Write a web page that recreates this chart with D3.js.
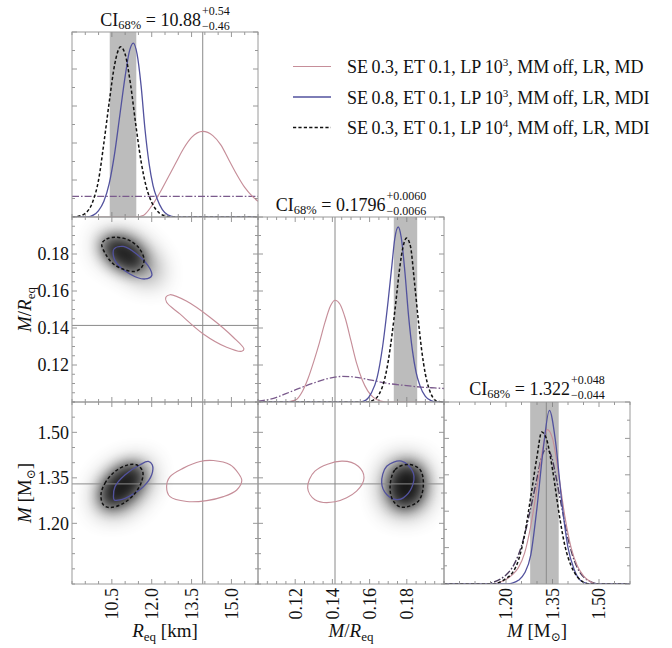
<!DOCTYPE html>
<html>
<head>
<meta charset="utf-8">
<script src="https://cdn.jsdelivr.net/npm/d3@7"></script>
<style>
  body { margin: 0; background: #fff; }
  svg { display: block; }
  text { font-family: "Liberation Serif", "Times New Roman", "DejaVu Serif", serif; fill: #111; }
</style>
</head>
<body>
<svg id="chart" width="672" height="648" font-family="Liberation Serif, serif"></svg>
<script>
// ---------- parameter axes ----------
const radiusDomain = [9, 16];
const compactDomain = [0.1, 0.2];
const massDomain = [1.0, 1.6];

const radiusTicks = [10.5, 12.0, 13.5, 15.0];
const radiusTickLabels = ["10.5", "12.0", "13.5", "15.0"];
const compactTicks = [0.12, 0.14, 0.16, 0.18];
const compactTickLabels = ["0.12", "0.14", "0.16", "0.18"];
const massTicks = [1.20, 1.35, 1.50];
const massTickLabels = ["1.20", "1.35", "1.50"];

const radiusMinorStep = 0.5;
const compactMinorStep = 0.005;
const massMinorStep = 0.05;

// injected (true) parameter values
const truthValues = [13.92, 0.1414, 1.33];

// 68% credible intervals of the reference run
const ciMedians = [10.88, 0.1796, 1.322];
const ciPlus = [0.54, 0.0060, 0.048];
const ciMinus = [0.46, 0.0066, 0.044];
const ciMedianLabels = ["10.88", "0.1796", "1.322"];
const ciPlusLabels = ["+0.54", "+0.0060", "+0.048"];
const ciMinusLabels = ["\u22120.46", "\u22120.0066", "\u22120.044"];

// legend entries
const runLabels = [
  ["SE\u20090.3, ET\u20090.1, LP\u200910", "3", ", MM\u2009off, LR, MD"],
  ["SE\u20090.8, ET\u20090.1, LP\u200910", "3", ", MM\u2009off, LR, MDI"],
  ["SE\u20090.3, ET\u20090.1, LP\u200910", "4", ", MM\u2009off, LR, MDI"]
];

// ---------- 1D marginal posteriors (relative density) ----------
const radiusMD = [[9,0],[11.4,0],[11.7,0.01],[12.0,0.06],[12.3,0.13],[12.6,0.21],[12.9,0.29],[13.2,0.37],[13.5,0.43],[13.92,0.463],[14.3,0.44],[14.6,0.39],[14.9,0.31],[15.2,0.23],[15.5,0.16],[15.8,0.11],[16.0,0.085]];
const radiusSE08 = [[9,0],[9.6,0],[9.8,0.01],[10.0,0.035],[10.2,0.085],[10.4,0.18],[10.6,0.34],[10.8,0.55],[11.0,0.76],[11.15,0.89],[11.31,0.94],[11.45,0.88],[11.6,0.71],[11.75,0.47],[11.9,0.29],[12.05,0.17],[12.2,0.1],[12.4,0.04],[12.6,0.012],[12.9,0],[16,0]];
const radiusLP4 = [[9,0],[9.2,0.003],[9.5,0.02],[9.8,0.09],[10.0,0.2],[10.2,0.4],[10.4,0.62],[10.6,0.82],[10.83,0.92],[11.0,0.88],[11.2,0.72],[11.4,0.5],[11.6,0.3],[11.8,0.16],[12.0,0.08],[12.3,0.02],[12.6,0.003],[12.8,0],[16,0]];
const radiusPrior = [[9,0.112],[12.5,0.112],[16,0.112]];

const compactMD = [[0.1,0],[0.115,0],[0.12,0.01],[0.124,0.06],[0.127,0.13],[0.13,0.22],[0.133,0.32],[0.136,0.43],[0.139,0.52],[0.1414,0.55],[0.144,0.53],[0.147,0.45],[0.15,0.33],[0.153,0.21],[0.156,0.12],[0.159,0.06],[0.162,0.025],[0.166,0.005],[0.17,0],[0.2,0]];
const compactSE08 = [[0.1,0],[0.155,0],[0.158,0.01],[0.161,0.05],[0.164,0.13],[0.167,0.3],[0.170,0.55],[0.172,0.74],[0.1735,0.88],[0.1754,0.946],[0.177,0.89],[0.179,0.7],[0.181,0.46],[0.183,0.28],[0.185,0.16],[0.187,0.09],[0.19,0.03],[0.193,0.008],[0.196,0],[0.2,0]];
const compactLP4 = [[0.1,0],[0.158,0],[0.162,0.01],[0.165,0.04],[0.168,0.12],[0.170,0.22],[0.172,0.36],[0.174,0.53],[0.176,0.71],[0.178,0.84],[0.1799,0.886],[0.182,0.84],[0.184,0.66],[0.186,0.46],[0.188,0.28],[0.190,0.15],[0.192,0.07],[0.194,0.025],[0.196,0.005],[0.2,0]];
const compactPrior = [[0.1,0.005],[0.105,0.012],[0.11,0.025],[0.115,0.045],[0.12,0.065],[0.125,0.085],[0.13,0.103],[0.135,0.12],[0.14,0.132],[0.145,0.138],[0.15,0.137],[0.155,0.13],[0.16,0.12],[0.165,0.11],[0.17,0.1],[0.175,0.094],[0.18,0.088],[0.185,0.083],[0.19,0.079],[0.195,0.076],[0.2,0.073]];

const massMD = [[1.0,0],[1.16,0],[1.18,0.01],[1.2,0.025],[1.22,0.05],[1.24,0.09],[1.26,0.17],[1.28,0.32],[1.30,0.53],[1.32,0.76],[1.333,0.848],[1.35,0.8],[1.37,0.6],[1.39,0.37],[1.41,0.2],[1.43,0.1],[1.45,0.045],[1.47,0.015],[1.49,0],[1.6,0]];
const massSE08 = [[1.0,0],[1.2,0],[1.22,0.005],[1.24,0.02],[1.26,0.06],[1.28,0.16],[1.30,0.42],[1.32,0.74],[1.34,0.954],[1.36,0.78],[1.38,0.45],[1.40,0.2],[1.42,0.08],[1.44,0.02],[1.46,0.004],[1.48,0],[1.6,0]];
const massLP4 = [[1.0,0],[1.16,0],[1.18,0.01],[1.2,0.03],[1.22,0.06],[1.24,0.13],[1.26,0.27],[1.28,0.48],[1.30,0.7],[1.315,0.835],[1.33,0.8],[1.35,0.63],[1.37,0.4],[1.39,0.21],[1.41,0.1],[1.43,0.04],[1.45,0.01],[1.47,0],[1.6,0]];
const massPrior = [[1.0,0],[1.14,0],[1.16,0.01],[1.18,0.025],[1.2,0.05],[1.22,0.09],[1.24,0.16],[1.26,0.27],[1.28,0.42],[1.30,0.58],[1.315,0.7],[1.33,0.742],[1.345,0.71],[1.36,0.6],[1.38,0.42],[1.40,0.25],[1.42,0.13],[1.44,0.06],[1.46,0.025],[1.48,0.008],[1.5,0],[1.6,0]];

// ---------- 2D 68% contours ----------
const radiusCompactMD = [[12.53,0.1566],[12.69,0.158],[13.32,0.1544],[14.19,0.1458],[15.07,0.135],[15.47,0.1286],[15.39,0.1274],[14.82,0.1296],[13.94,0.1368],[13.06,0.1476],[12.56,0.1539]];
const radiusCompactSE08 = [[10.58,0.1827],[10.93,0.1841],[11.43,0.1800],[11.94,0.1719],[12.0,0.1683],[11.75,0.1665],[11.18,0.1692],[10.62,0.1764]];
const radiusCompactLP4 = [[10.12,0.1854],[10.30,0.1881],[10.68,0.1890],[11.12,0.1876],[11.50,0.1836],[11.71,0.1773],[11.62,0.1728],[11.37,0.1706],[11.0,0.1714],[10.56,0.1746],[10.30,0.1791]];
const radiusCompactDensity = [[10.12,0.1872],[10.68,0.1894],[11.31,0.1863],[11.87,0.1782],[12.25,0.1683],[12.06,0.1656],[11.43,0.1701],[10.68,0.1764],[10.18,0.1818]];

const radiusMassMD = [[12.56,1.321],[12.69,1.354],[13.19,1.382],[13.82,1.404],[14.32,1.407],[14.95,1.393],[15.26,1.365],[15.39,1.341],[15.20,1.310],[14.70,1.288],[14.07,1.275],[13.32,1.272],[12.69,1.288]];
const radiusMassSE08 = [[10.56,1.288],[10.62,1.321],[11.0,1.360],[11.56,1.393],[11.87,1.404],[12.02,1.393],[12.0,1.360],[11.69,1.321],[11.25,1.294],[10.81,1.277],[10.59,1.277]];
const radiusMassLP4 = [[10.09,1.294],[10.24,1.332],[10.62,1.371],[11.12,1.393],[11.43,1.393],[11.66,1.371],[11.62,1.338],[11.37,1.299],[10.93,1.266],[10.43,1.252],[10.18,1.261]];
const radiusMassDensity = [[10.05,1.261],[10.12,1.316],[10.56,1.360],[11.18,1.389],[11.75,1.393],[11.87,1.365],[11.62,1.310],[11.06,1.261],[10.43,1.239]];

const compactMassMD = [[0.1267,1.317],[0.1306,1.372],[0.145,1.405],[0.1539,1.388],[0.157,1.350],[0.153,1.306],[0.1414,1.271],[0.1306,1.278]];
const compactMassSE08 = [[0.1665,1.333],[0.1692,1.388],[0.1772,1.405],[0.1835,1.366],[0.1826,1.317],[0.1781,1.284],[0.1746,1.278],[0.1692,1.295]];
const compactMassLP4 = [[0.171,1.317],[0.1737,1.377],[0.1808,1.394],[0.1871,1.377],[0.1889,1.328],[0.1862,1.273],[0.1772,1.253],[0.1728,1.273]];
const compactMassDensity = [[0.1686,1.322],[0.1715,1.385],[0.179,1.405],[0.1871,1.385],[0.1898,1.322],[0.1871,1.260],[0.179,1.240],[0.171,1.260]];

// ---------- layout ----------
const colX = [[72, 258], [258, 444], [444, 630]];
const rowY = [[32, 217], [217, 402], [402, 584]];

const styles = {
  md:    { stroke: "#c68e99", width: 1.15, dash: null },
  se08:  { stroke: "#52529e", width: 1.3,  dash: null },
  lp4:   { stroke: "#111111", width: 1.5,  dash: "3.2,2.2" },
  prior: { stroke: "#7a5a8c", width: 1.3,  dash: "7,2,1.6,2" },
  priorDark: { stroke: "#4a3a5c", width: 1.4, dash: "7,2,1.6,2" }
};
const frameColor = "#9a9a9a";
const truthColor = "#8a8a8a";
const bandColor = "#bcbcbc";

const params = [
  { domain: radiusDomain, ticks: radiusTicks, labels: radiusTickLabels, minor: radiusMinorStep },
  { domain: compactDomain, ticks: compactTicks, labels: compactTickLabels, minor: compactMinorStep },
  { domain: massDomain, ticks: massTicks, labels: massTickLabels, minor: massMinorStep }
];
const marginals = [
  { md: radiusMD, se08: radiusSE08, lp4: radiusLP4, prior: radiusPrior, priorStyle: "prior" },
  { md: compactMD, se08: compactSE08, lp4: compactLP4, prior: compactPrior, priorStyle: "prior" },
  { md: massMD, se08: massSE08, lp4: massLP4, prior: massPrior, priorStyle: "priorDark" }
];
const joints = [
  { row: 1, col: 0, md: radiusCompactMD, se08: radiusCompactSE08, lp4: radiusCompactLP4, density: radiusCompactDensity },
  { row: 2, col: 0, md: radiusMassMD, se08: radiusMassSE08, lp4: radiusMassLP4, density: radiusMassDensity },
  { row: 2, col: 1, md: compactMassMD, se08: compactMassSE08, lp4: compactMassLP4, density: compactMassDensity }
];

const xScales = params.map((p, i) => d3.scaleLinear().domain(p.domain).range(colX[i]));
const yScales = params.map((p, i) => d3.scaleLinear().domain(p.domain).range([rowY[i][1], rowY[i][0]]));
const densityScales = params.map((p, i) => d3.scaleLinear().domain([0, 1]).range([rowY[i][1], rowY[i][0]]));

const svg = d3.select("#chart");
const defs = svg.append("defs");

// soft shading for the 2D posterior density
const wideBlur = defs.append("filter").attr("id", "blurWide")
  .attr("x", "-200%").attr("y", "-200%").attr("width", "500%").attr("height", "500%");
wideBlur.append("feGaussianBlur").attr("stdDeviation", 13);
const coreBlur = defs.append("filter").attr("id", "blurCore")
  .attr("x", "-200%").attr("y", "-200%").attr("width", "500%").attr("height", "500%");
coreBlur.append("feGaussianBlur").attr("stdDeviation", 7);

function stepTicks(domain, step) {
  const n = Math.round((domain[1] - domain[0]) / step);
  return d3.range(n + 1).map(k => +(domain[0] + k * step).toFixed(6));
}

function clipFor(id, x0, x1, y0, y1) {
  defs.append("clipPath").attr("id", id).append("rect")
    .attr("x", x0).attr("y", y0).attr("width", x1 - x0).attr("height", y1 - y0);
  return `url(#${id})`;
}

// frame with inward ticks on all four sides
function drawFrame(g, xs, ys, xMajor, xMinor, yMajor, yMinor) {
  const [x0, x1] = xs.range();
  const [y1, y0] = ys.range();
  const tg = g.append("g").attr("stroke", "#7d7d7d").attr("stroke-width", 0.8);
  const majorLen = 5, minorLen = 3;
  const isMajor = (v, arr) => arr.some(m => Math.abs(m - v) < 1e-9);
  xMinor.forEach(v => {
    const x = xs(v), L = isMajor(v, xMajor) ? majorLen : minorLen;
    tg.append("line").attr("x1", x).attr("x2", x).attr("y1", y1).attr("y2", y1 - L);
    tg.append("line").attr("x1", x).attr("x2", x).attr("y1", y0).attr("y2", y0 + L);
  });
  yMinor.forEach(v => {
    const y = ys(v), L = isMajor(v, yMajor) ? majorLen : minorLen;
    tg.append("line").attr("x1", x0).attr("x2", x0 + L).attr("y1", y).attr("y2", y);
    tg.append("line").attr("x1", x1).attr("x2", x1 - L).attr("y1", y).attr("y2", y);
  });
  g.append("rect").attr("x", x0).attr("y", y0).attr("width", x1 - x0).attr("height", y1 - y0)
    .attr("fill", "none").attr("stroke", frameColor).attr("stroke-width", 1);
}

function applyStyle(sel, s) {
  sel.attr("fill", "none").attr("stroke", s.stroke).attr("stroke-width", s.width)
    .attr("stroke-linejoin", "round");
  if (s.dash) sel.attr("stroke-dasharray", s.dash);
  return sel;
}

// ---------- diagonal panels: 1D marginals ----------
params.forEach((p, i) => {
  const xs = xScales[i], ds = densityScales[i];
  const g = svg.append("g");
  const body = g.append("g").attr("clip-path", clipFor("diag" + i, colX[i][0], colX[i][1], rowY[i][0], rowY[i][1]));

  // 68% credible band
  const lo = ciMedians[i] - ciMinus[i], hi = ciMedians[i] + ciPlus[i];
  body.append("rect").attr("x", xs(lo)).attr("width", xs(hi) - xs(lo))
    .attr("y", ds(1.0)).attr("height", ds(0) - ds(1.0)).attr("fill", bandColor);

  body.append("line").attr("x1", xs(truthValues[i])).attr("x2", xs(truthValues[i]))
    .attr("y1", ds(0)).attr("y2", ds(1.0)).attr("stroke", truthColor).attr("stroke-width", 1);

  const line = d3.line().x(d => xs(d[0])).y(d => ds(d[1])).curve(d3.curveMonotoneX);
  const m = marginals[i];
  applyStyle(body.append("path").attr("d", line(m.prior)), styles[m.priorStyle]);
  applyStyle(body.append("path").attr("d", line(m.md)), styles.md);
  applyStyle(body.append("path").attr("d", line(m.se08)), styles.se08);
  applyStyle(body.append("path").attr("d", line(m.lp4)), styles.lp4);

  drawFrame(g, xs, ds, p.ticks, stepTicks(p.domain, p.minor), [0, 0.2, 0.4, 0.6, 0.8, 1.0], stepTicks([0, 1], 0.1));
});

// ---------- off-diagonal panels: 2D posteriors ----------
joints.forEach((jp, k) => {
  const xs = xScales[jp.col], ys = yScales[jp.row];
  const g = svg.append("g");
  const body = g.append("g").attr("clip-path",
    clipFor("joint" + k, colX[jp.col][0], colX[jp.col][1], rowY[jp.row][0], rowY[jp.row][1]));
  const closed = d3.line().x(d => xs(d[0])).y(d => ys(d[1])).curve(d3.curveCatmullRomClosed.alpha(0.5));

  // density shading
  body.append("path").attr("d", closed(jp.density)).attr("fill", "#000")
    .attr("opacity", 0.75).attr("filter", "url(#blurWide)");
  body.append("path").attr("d", closed(jp.lp4)).attr("fill", "#000")
    .attr("opacity", 0.75).attr("filter", "url(#blurCore)");

  // injected values
  const tx = xs(truthValues[jp.col]), ty = ys(truthValues[jp.row]);
  body.append("line").attr("x1", tx).attr("x2", tx).attr("y1", ys.range()[0]).attr("y2", ys.range()[1])
    .attr("stroke", truthColor).attr("stroke-width", 1);
  body.append("line").attr("x1", xs.range()[0]).attr("x2", xs.range()[1]).attr("y1", ty).attr("y2", ty)
    .attr("stroke", truthColor).attr("stroke-width", 1);

  applyStyle(body.append("path").attr("d", closed(jp.md)), styles.md);
  applyStyle(body.append("path").attr("d", closed(jp.se08)), styles.se08);
  applyStyle(body.append("path").attr("d", closed(jp.lp4)), styles.lp4);

  const px = params[jp.col], py = params[jp.row];
  drawFrame(g, xs, ys, px.ticks, stepTicks(px.domain, px.minor), py.ticks, stepTicks(py.domain, py.minor));
});

// ---------- tick labels ----------
[1, 2].forEach(r => {
  const p = params[r];
  p.ticks.forEach((v, idx) => {
    svg.append("text").attr("x", 69).attr("y", yScales[r](v)).attr("dy", "0.35em")
      .attr("text-anchor", "end").attr("font-size", 18).text(p.labels[idx]);
  });
});
params.forEach((p, c) => {
  p.ticks.forEach((v, idx) => {
    svg.append("text").attr("transform", `translate(${xScales[c](v)},588) rotate(-90)`)
      .attr("dy", "0.35em").attr("text-anchor", "end").attr("font-size", 18).text(p.labels[idx]);
  });
});

// ---------- axis titles ----------
function compactLabel(t) {
  t.append("tspan").attr("font-style", "italic").text("M");
  t.append("tspan").text("/");
  t.append("tspan").attr("font-style", "italic").text("R");
  t.append("tspan").attr("font-size", 13).attr("dy", 3.5).text("eq");
}
function massLabel(t) {
  t.append("tspan").attr("font-style", "italic").text("M");
  t.append("tspan").text(" [M");
  t.append("tspan").attr("font-size", 12).attr("dy", 4).text("\u2299");
  t.append("tspan").attr("dy", -4).text("]");
}
function radiusLabel(t) {
  t.append("tspan").attr("font-style", "italic").text("R");
  t.append("tspan").attr("font-size", 13).attr("dy", 4).text("eq");
  t.append("tspan").attr("dy", -4).text(" [km]");
}
const axisFont = 19;
radiusLabel(svg.append("text").attr("x", d3.mean(colX[0])).attr("y", 637)
  .attr("text-anchor", "middle").attr("font-size", axisFont));
compactLabel(svg.append("text").attr("x", d3.mean(colX[1])).attr("y", 637)
  .attr("text-anchor", "middle").attr("font-size", axisFont));
massLabel(svg.append("text").attr("x", d3.mean(colX[2])).attr("y", 637)
  .attr("text-anchor", "middle").attr("font-size", axisFont));
compactLabel(svg.append("text").attr("transform", `translate(31,${d3.mean(rowY[1])}) rotate(-90)`)
  .attr("text-anchor", "middle").attr("font-size", axisFont));
massLabel(svg.append("text").attr("transform", `translate(31,${d3.mean(rowY[2])}) rotate(-90)`)
  .attr("text-anchor", "middle").attr("font-size", axisFont));

// ---------- credible-interval titles ----------
const titleBaselines = [26, 211, 395];
params.forEach((p, i) => {
  const g = svg.append("g");
  const main = g.append("text").attr("x", 0).attr("y", titleBaselines[i]).attr("font-size", 18);
  main.append("tspan").text("CI");
  main.append("tspan").attr("font-size", 12.5).attr("dy", 3).text("68%");
  main.append("tspan").attr("dy", -3).text(" = " + ciMedianLabels[i]);
  const w = main.node().getComputedTextLength();
  const sup = g.append("text").attr("x", w + 1).attr("y", titleBaselines[i] - 11)
    .attr("font-size", 12).text(ciPlusLabels[i]);
  const sub = g.append("text").attr("x", w + 1).attr("y", titleBaselines[i] + 4)
    .attr("font-size", 12).text(ciMinusLabels[i]);
  const sw = Math.max(sup.node().getComputedTextLength(), sub.node().getComputedTextLength());
  const total = w + 1 + sw;
  g.attr("transform", `translate(${d3.mean(colX[i]) - total / 2},0)`);
});

// ---------- legend ----------
const legendStyles = [styles.md, styles.se08, styles.lp4];
const legendBaselines = [73, 103.5, 134];
runLabels.forEach((parts, i) => {
  const yb = legendBaselines[i];
  applyStyle(svg.append("line").attr("x1", 293).attr("x2", 331).attr("y1", yb - 6.5).attr("y2", yb - 6.5),
    legendStyles[i]);
  const t = svg.append("text").attr("x", 347).attr("y", yb).attr("font-size", 18);
  t.append("tspan").text(parts[0]);
  t.append("tspan").attr("font-size", 11).attr("dy", -7).text(parts[1]);
  t.append("tspan").attr("dy", 7).text(parts[2]);
});
</script>
</body>
</html>
